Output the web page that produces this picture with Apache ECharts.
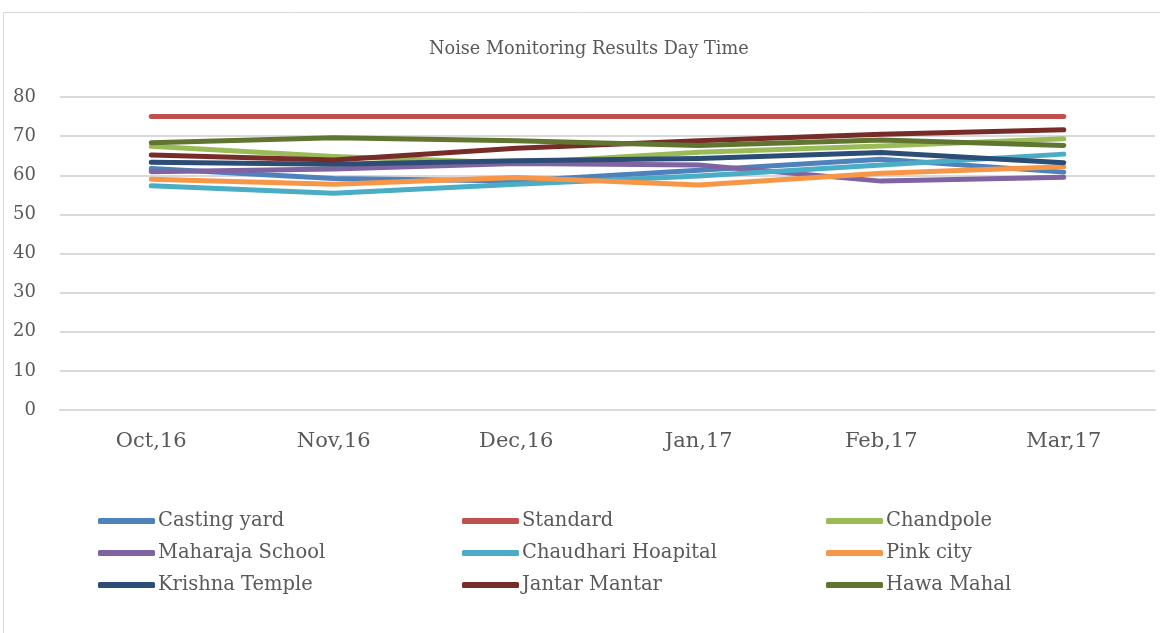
<!DOCTYPE html>
<html>
<head>
<meta charset="utf-8">
<script src="https://cdn.jsdelivr.net/npm/echarts@6/dist/echarts.min.js"></script>
<style>
  html, body { margin: 0; padding: 0; background: #fff; }
  #chart { width: 1160px; height: 633px; }
</style>
</head>
<body>
<div id="chart"></div>
<script>
const months = ["Oct,16", "Nov,16", "Dec,16", "Jan,17", "Feb,17", "Mar,17"];

const castingYard = [61.7, 59.2, 58.5, 61.3, 64.1, 60.8];
const standard = [75, 75, 75, 75, 75, 75];
const chandpole = [67.4, 64.8, 63.1, 65.9, 67.5, 69.3];
const maharajaSchool = [60.9, 61.6, 63.0, 62.6, 58.5, 59.5];
const chaudhariHospital = [57.3, 55.4, 57.7, 59.8, 62.6, 65.4];
const pinkCity = [59.0, 57.7, 59.4, 57.5, 60.5, 62.2];
const krishnaTemple = [63.3, 62.8, 63.7, 64.3, 65.8, 63.2];
const jantarMantar = [65.2, 63.9, 66.9, 68.8, 70.5, 71.6];
const hawaMahal = [68.3, 69.6, 68.8, 67.6, 69.0, 67.6];

const names = ["Casting yard", "Standard", "Chandpole", "Maharaja School", "Chaudhari Hoapital",
  "Pink city", "Krishna Temple", "Jantar Mantar", "Hawa Mahal"];
const values = [castingYard, standard, chandpole, maharajaSchool, chaudhariHospital,
  pinkCity, krishnaTemple, jantarMantar, hawaMahal];
const colors = ["#4F81BD", "#C0504D", "#9BBB59", "#8064A2", "#4BACC6",
  "#F79646", "#2C4D75", "#772C2A", "#5F7530"];

const font = "DejaVu Serif";

let chart = echarts.init(document.getElementById("chart"), null, { renderer: "canvas" });

// three legend columns, rows go across like in the original
const makeLegend = (left, items) => ({
  left: left,
  top: 511,
  padding: 0,
  orient: "vertical",
  data: items,
  itemWidth: 57,
  itemHeight: 6,
  itemGap: 12,
  icon: "roundRect",
  textStyle: { fontFamily: font, fontSize: 19.5, color: "#595959", lineHeight: 20, padding: [0, 0, 0, -2] },
});

let series = names.map((n, i) => ({
  name: n,
  type: "line",
  data: values[i],
  showSymbol: false,
  color: colors[i],
  lineStyle: { width: 5, color: colors[i], cap: "round", join: "round" },
}));

let option = {
  animation: false,
  title: {
    text: "Noise Monitoring Results Day Time",
    left: 424,
    top: 35,
    textStyle: { fontFamily: font, fontSize: 17.7, fontWeight: "normal", color: "#595959" },
  },
  graphic: [
    {
      type: "rect",
      shape: { x: 3.5, y: 12.5, width: 1170, height: 640 },
      style: { fill: "none", stroke: "#d9d9d9", lineWidth: 1 },
      silent: true,
    },
  ],
  legend: [
    makeLegend(98, [names[0], names[3], names[6]]),
    makeLegend(462, [names[1], names[4], names[7]]),
    makeLegend(826, [names[2], names[5], names[8]]),
  ],
  grid: { left: 60, right: 5, top: 97, bottom: 223 },
  xAxis: {
    type: "category",
    data: months,
    axisTick: { show: false },
    axisLine: { lineStyle: { color: "#d9d9d9", width: 2 } },
    axisLabel: { fontFamily: font, fontSize: 21, color: "#595959", margin: 21 },
  },
  yAxis: {
    type: "value",
    min: 0,
    max: 80,
    interval: 10,
    axisLine: { show: false },
    axisTick: { show: false },
    axisLabel: { fontFamily: font, fontSize: 18, color: "#595959", margin: 24 },
    splitLine: { lineStyle: { color: "#d9d9d9", width: 2 } },
  },
  series: series,
};

chart.setOption(option);
</script>
</body>
</html>
